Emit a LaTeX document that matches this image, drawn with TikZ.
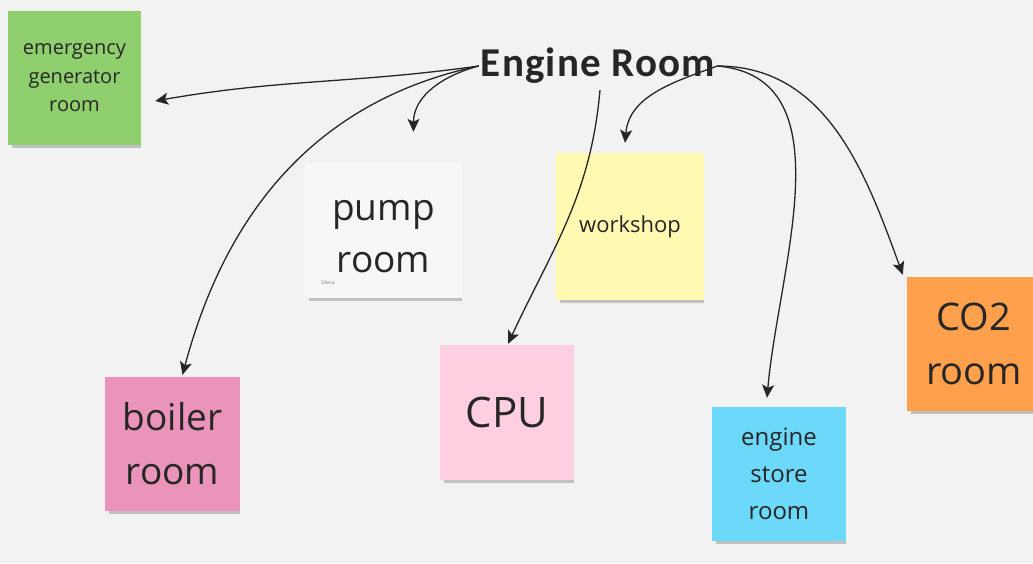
\documentclass[tikz,border=0pt]{standalone}
\usepackage{fontspec}
\setmainfont{Open Sans}
\newfontfamily\titlefont[LetterSpace=3]{Carlito}
\usepackage{tikz}
\usetikzlibrary{arrows.meta, shadows, calc}
\definecolor{boardgray}{HTML}{F2F2F2}
\definecolor{inkgray}{HTML}{262626}
\definecolor{notegreen}{HTML}{8FCF6E}
\definecolor{notewhite}{HTML}{F6F7F9}
\definecolor{noteyellow}{HTML}{FFF9B1}
\definecolor{notepink}{HTML}{EA94BB}
\definecolor{notelightpink}{HTML}{FFCEE0}
\definecolor{noteblue}{HTML}{6CD8FA}
\definecolor{noteorange}{HTML}{FFA04D}

\begin{document}
\begin{tikzpicture}[
			x=1pt, y=1pt,
			every node/.style={
					inner sep=0pt,
					text=inkgray
				},
			sticky/.style={
					minimum width=134pt,
					minimum height=134pt,
					align=center,
					drop shadow={shadow xshift=2pt, shadow yshift=-5pt, shadow scale=0.97, opacity=0.2, fill=black}
				},
			link/.style={-{Stealth[length=13pt, width=12pt, inset=3pt]}, line width=1.3pt, draw=inkgray}
		]
		\clip (0,0) rectangle (1033,-563);
		\fill[boardgray] (0,0) rectangle (1033,-563);

		% sticky notes
		\node[sticky, fill=notegreen, minimum width=133pt,
			font=\fontsize{20}{28.5}\selectfont] (emergency) at (74.5,-78) {emergency\\generator\\room};
		\node[sticky, fill=notewhite, minimum width=157pt, minimum height=135pt] (pump) at (383.5,-230.5) {};
		\node[font=\fontsize{37}{52}\selectfont, align=center] (pumptext) at (383.5,-237) {pump\\room};
		\node[font=\fontsize{5}{6}\selectfont, text=gray] (author) at (328,-283) {Olena};
		\node[sticky, fill=noteyellow, minimum width=148pt, minimum height=147pt,
			font=\fontsize{22}{26}\selectfont] (workshop) at (630,-226.5) {workshop};
		\node[sticky, fill=notepink, minimum width=135pt,
			font=\fontsize{37}{54}\selectfont] (boiler) at (172.5,-444) {boiler\\room};
		\node[sticky, fill=notelightpink, minimum height=135pt,
			font=\fontsize{42}{48}\selectfont] (cpu) at (507,-412.5) {CPU};
		\node[sticky, fill=noteblue,
			font=\fontsize{24}{37}\selectfont] (store) at (779,-474) {engine\\store\\room};
		\node[sticky, fill=noteorange,
			font=\fontsize{38}{54}\selectfont] (co2) at (974,-344) {CO2\\room};

		% hub
		\node[inner sep=2pt, font=\titlefont\bfseries\fontsize{41}{44}\selectfont] (engine) at (598,-66) {Engine Room};

		\draw[link] (engine.west) to[out=188, in=10] ($(emergency.east)+(14,-23)$);
		\draw[link] (engine.west) to[out=195, in=90] ($(pump.north)+(30,31)$);
		\draw[link] (engine.west) to[out=192, in=75] ($(boiler.north)+(10,2)$);
		\draw[link] ($(engine.south)+(2,-4)$) to[out=265, in=65] ($(cpu.north)+(1,1)$);
		\draw[link] (engine.east) to[out=200, in=85] ($(workshop.north)+(-5,10)$);
		\draw[link] (engine.east) to[out=355, in=85] ($(store.north)+(-12,9)$);
		\draw[link] (engine.east) to[out=0, in=110] ($(co2.north west)+(-4,2)$);

	\end{tikzpicture}
\end{document}
